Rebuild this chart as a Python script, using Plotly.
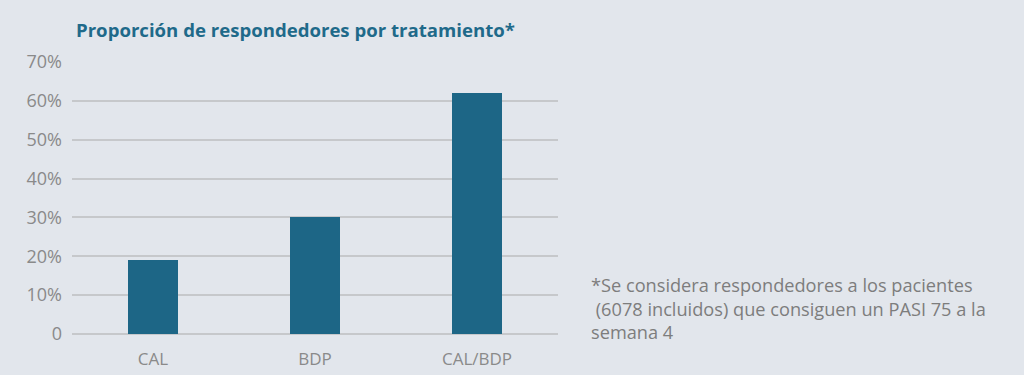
import plotly.graph_objects as go

categories = ["CAL", "BDP", "CAL/BDP"]
values = [19, 30, 62]
tick_vals = [0, 10, 20, 30, 40, 50, 60, 70]
tick_text = ["0", "10%", "20%", "30%", "40%", "50%", "60%", "70%"]
title = "Proporción de respondedores por tratamiento*"
footnote = "*Se considera respondedores a los pacientes<br> (6078 incluidos) que consiguen un PASI 75 a la<br>semana 4"

BG = "#e2e6ec"
L, R, T, B = 72, 558, 62, 334

fig = go.Figure(go.Bar(x=list(range(len(categories))), y=values, width=0.31,
                       marker=dict(color="#1d6686", line=dict(width=0)),
                       hoverinfo="skip"))

fig.update_layout(
    width=1024, height=375,
    paper_bgcolor=BG, plot_bgcolor=BG,
    margin=dict(l=L, r=1024 - R, t=T, b=375 - B),
    showlegend=False,
    font=dict(family="Open Sans", color="#8a8a8a", size=17),
    bargap=0,
)
fig.update_xaxes(
    tickvals=list(range(len(categories))), ticktext=categories,
    range=[-0.5, 2.5], showgrid=False, zeroline=False, showline=False,
    ticks="", ticklabelstandoff=13, automargin=False,
    tickfont=dict(size=17, color="#8a8a8a"),
)
fig.update_yaxes(
    range=[0, 70], tickvals=tick_vals, ticktext=tick_text,
    showgrid=True, gridcolor="#c6c8cb", gridwidth=2.2,
    zeroline=True, zerolinecolor="#c6c8cb", zerolinewidth=2.2,
    showline=False, ticks="", ticklabelstandoff=9, automargin=False,
    tickfont=dict(size=18, color="#8a8a8a"),
)
pw = R - L
ph = B - T
fig.add_annotation(text="<b>" + title + "</b>", xref="paper", yref="paper",
                   x=(74 - L) / pw, y=(B - 30) / ph, xanchor="left", yanchor="middle",
                   showarrow=False, font=dict(family="Open Sans", size=18.6, color="#1f6a8a"))
fig.add_annotation(text=footnote, xref="paper", yref="paper",
                   x=(589 - L) / pw, y=(B - 308) / ph, xanchor="left", yanchor="middle",
                   align="left", showarrow=False,
                   font=dict(family="Open Sans", size=18.2, color="#7d7d7d"))

fig.write_html("out.html", config={"displayModeBar": False},
               post_script="document.body.style.margin='0';")
